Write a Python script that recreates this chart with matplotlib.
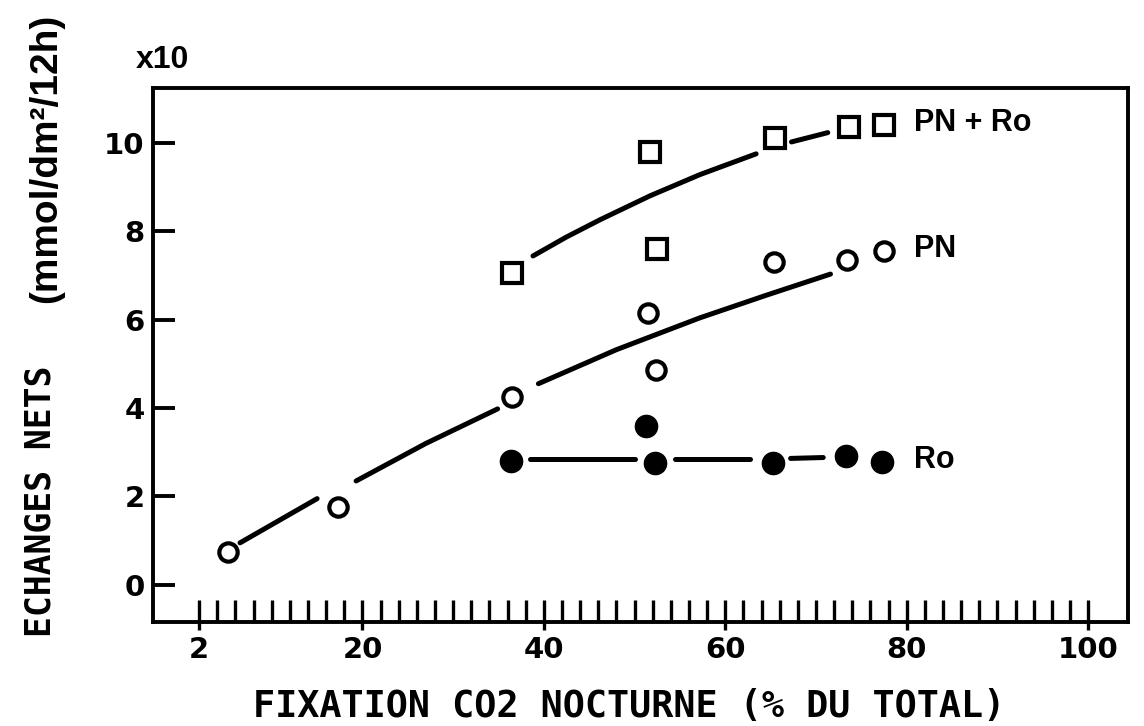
import matplotlib.pyplot as plt
import numpy as np

# net exchanges vs. nocturnal CO2 fixation
x_pn_ro = [36.5, 51.7, 52.5, 65.5, 73.6, 77.5]
y_pn_ro = [7.05, 9.8, 7.6, 10.1, 10.35, 10.4]

x_pn = [5.2, 17.3, 36.5, 51.5, 52.4, 65.4, 73.4, 77.5]
y_pn = [0.75, 1.75, 4.25, 6.15, 4.85, 7.3, 7.35, 7.55]

x_ro = [36.4, 51.3, 52.3, 65.3, 73.3, 77.3]
y_ro = [2.8, 3.6, 2.76, 2.76, 2.92, 2.78]

# hand-drawn trend curves, broken around the symbols
pn_ro_curve = [
    [(38.8, 7.44), (42.5, 7.87), (46.2, 8.26), (51.7, 8.8), (57.2, 9.28), (63.4, 9.75)],
    [(67.3, 10.02), (71.3, 10.23)],
]
pn_curve = [
    [(6.5, 0.95), (15.0, 1.95)],
    [(19.3, 2.35), (27.0, 3.2), (34.9, 3.98)],
    [(39.4, 4.55), (48.0, 5.32), (57.2, 6.04), (64.5, 6.55), (71.6, 7.03)],
]
ro_curve = [
    [(38.5, 2.85), (50.1, 2.85)],
    [(54.5, 2.84), (62.7, 2.84)],
    [(67.2, 2.86), (70.8, 2.88)],
]

x_major = [2, 20, 40, 60, 80, 100]
y_major = [0, 2, 4, 6, 8, 10]

fig = plt.figure(figsize=(11.44, 7.26), dpi=100)
ax = fig.add_axes([0.1337, 0.1433, 0.8523, 0.7355])

for curve in (pn_ro_curve, pn_curve, ro_curve):
    for seg in curve:
        xs, ys = zip(*seg)
        ax.plot(xs, ys, color='black', lw=3.6, solid_capstyle='round')

ax.plot(x_pn_ro, y_pn_ro, ls='none', marker='s', ms=14, mfc='white', mec='black', mew=3.0)
ax.plot(x_pn, y_pn, ls='none', marker='o', ms=13.2, mfc='white', mec='black', mew=3.0)
ax.plot(x_ro, y_ro, ls='none', marker='o', ms=16, mfc='black', mec='black', mew=1.0)

lab_font = dict(family='Liberation Sans', weight='bold', fontsize=22)
ax.text(80.8, y_pn_ro[-1] + 0.05, 'PN + Ro', va='center', ha='left', **lab_font)
ax.text(80.8, y_pn[-1] + 0.05, 'PN', va='center', ha='left', **lab_font)
ax.text(80.8, y_ro[-1] + 0.05, 'Ro', va='center', ha='left', **lab_font)

ax.set_xlim(-3.1, 104.4)
ax.set_ylim(-0.84, 11.24)

ax.set_xticks(x_major)
ax.set_xticks(np.arange(2, 101, 2), minor=True)
ax.xaxis.remove_overlapping_locs = False
ax.set_yticks(y_major)

ax.tick_params(axis='x', which='major', direction='out', length=6, width=2.4,
               pad=4, labelsize=21)
ax.tick_params(axis='x', which='minor', direction='in', length=16, width=2.4)
ax.tick_params(axis='y', which='major', direction='in', length=16, width=2.8,
               pad=6, labelsize=21)
for lbl in ax.get_xticklabels() + ax.get_yticklabels():
    lbl.set_fontweight('bold')

for sp in ax.spines.values():
    sp.set_linewidth(2.8)

ax.set_xlabel('FIXATION CO2 NOCTURNE (% DU TOTAL)', family='DejaVu Sans Mono',
              weight='bold', fontsize=26.5)
ax.xaxis.set_label_coords(0.488, -0.124)

fig.text(0.035, 0.309, 'ECHANGES NETS', rotation=90, ha='center', va='center',
         family='DejaVu Sans Mono', weight='bold', fontsize=25)
fig.text(0.040, 0.782, '(mmol/dm²/12h)', rotation=90, ha='center', va='center',
         family='Liberation Sans', weight='bold', fontsize=28)
fig.text(0.142, 0.917, 'x10', ha='center', va='center',
         family='Liberation Sans', weight='bold', fontsize=23)

fig.savefig('out.png', dpi=100)
